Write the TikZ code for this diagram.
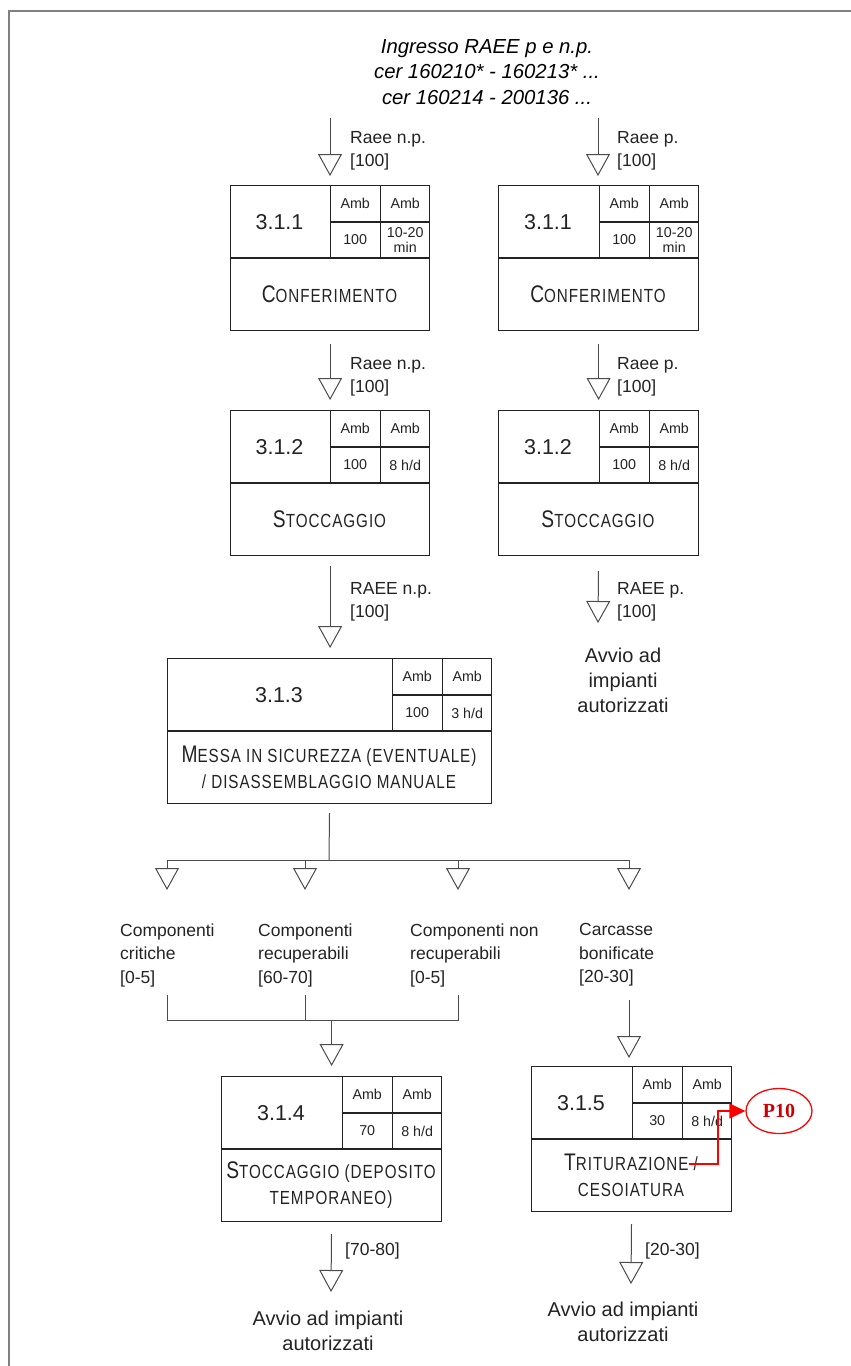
\documentclass[tikz,border=0pt]{standalone}
\usepackage{fontspec}
\setmainfont{Liberation Sans}
\newfontfamily\cadfont[FakeStretch=0.8,LetterSpace=5]{Liberation Sans}
\newfontfamily\pfont{Liberation Serif}
\usetikzlibrary{arrows.meta,shapes.geometric}

\definecolor{grigioscuro}{RGB}{35,35,35}
\definecolor{grigio}{RGB}{75,75,75}
\definecolor{rossoP}{RGB}{204,0,0}

% lettera grande del maiuscoletto
\newcommand{\gc}[1]{{\fontsize{24}{26}\selectfont #1}}

% fase: nome, x, y, larghezza, codice, quantita, tempo, titolo
\newcommand{\fase}[8]{%
  \node[box, minimum width=#4pt] (#1) at (#2,#3) {};
  \draw[bordo] ([yshift=-73pt]#1.north west) -- ++(#4,0);
  \draw[bordo] ([xshift=-100pt]#1.north east) -- ++(0,73);
  \draw[bordo] ([xshift=-50pt]#1.north east) -- ++(0,73);
  \draw[bordo] ([shift={(-100,37)}]#1.north east) -- ++(100,0);
  \node[codice] (#1c) at ([shift={({(#4-100)/2},37)}]#1.north west) {#5};
  \node[cella] (#1a1) at ([shift={(-75,18.5)}]#1.north east) {Amb};
  \node[cella] (#1a2) at ([shift={(-25,18.5)}]#1.north east) {Amb};
  \node[cella] (#1v1) at ([shift={(-75,55)}]#1.north east) {#6};
  \node[cella] (#1v2) at ([shift={(-25,55)}]#1.north east) {#7};
  \node[titolo] (#1t) at ([shift={({#4/2},109)}]#1.north west) {#8};
}

\begin{document}
\begin{tikzpicture}[x=1pt, y=-1pt,
    box/.style={draw=grigioscuro, line width=1.2pt, rectangle, inner sep=0pt,
      minimum height=145pt, anchor=north west},
    bordo/.style={draw=grigioscuro, line width=1.2pt},
    codice/.style={text=grigioscuro, font=\fontsize{21.5}{24}\selectfont},
    cella/.style={text=grigioscuro, align=center, inner sep=0pt,
      font=\fontsize{14.3}{14.5}\selectfont},
    titolo/.style={text=grigioscuro, align=center, inner sep=0pt,
      font=\cadfont\fontsize{19}{26}\selectfont},
    etich/.style={text=grigioscuro, anchor=west, align=left, inner sep=0pt,
      font=\fontsize{17.5}{23.5}\selectfont},
    avvio/.style={text=grigioscuro, align=center, inner sep=0pt,
      font=\fontsize{20}{25}\selectfont},
    filo/.style={draw=grigio, line width=1pt},
    flusso/.style={draw=grigio, line width=1pt,
      -{Triangle[open, width=24pt, length=22pt]}},
    cornice/.style={draw=black!50, line width=2.5pt}]

  \useasboundingbox (0,0) rectangle (851,1366);
  \draw[cornice] (9,1366) -- (9,11) -- (851,11);

  % Ingresso
  \node[align=center, font=\itshape\fontsize{20.3}{25.5}\selectfont] (ingresso) at (487,72)
    {Ingresso RAEE p e n.p.\\cer 160210* - 160213* ...\\cer 160214 - 200136 ...};

  % Fasi
  \fase{conf1}{230}{185}{199}{3.1.1}{100}{10-20\\min}{\gc{C}ONFERIMENTO}
  \fase{conf2}{498}{185}{200}{3.1.1}{100}{10-20\\min}{\gc{C}ONFERIMENTO}
  \fase{stoc1}{230}{410}{199}{3.1.2}{100}{8 h/d}{\gc{S}TOCCAGGIO}
  \fase{stoc2}{498}{410}{200}{3.1.2}{100}{8 h/d}{\gc{S}TOCCAGGIO}
  \fase{mess}{167}{658}{324}{3.1.3}{100}{3 h/d}{\gc{M}ESSA IN SICUREZZA (EVENTUALE)\\/ DISASSEMBLAGGIO MANUALE}
  \fase{depo}{221}{1076}{220}{3.1.4}{70}{8 h/d}{\gc{S}TOCCAGGIO (DEPOSITO\\TEMPORANEO)}
  \fase{trit}{531}{1066}{200}{3.1.5}{30}{8 h/d}{\gc{T}RITURAZIONE /\\CESOIATURA}

  % Etichette dei flussi
  \node[etich] (l1) at (350,151) {Raee n.p.\\{[100]}};
  \node[etich] (l2) at (617,151) {Raee p.\\{[100]}};
  \node[etich] (l3) at (350,377) {Raee n.p.\\{[100]}};
  \node[etich] (l4) at (617,377) {Raee p.\\{[100]}};
  \node[etich] (l5) at (350,602) {RAEE n.p.\\{[100]}};
  \node[etich] (l6) at (617,602) {RAEE p.\\{[100]}};
  \node[etich] (comp1) at (120,955) {Componenti\\critiche\\{[0-5]}};
  \node[etich] (comp2) at (258,955) {Componenti\\recuperabili\\{[60-70]}};
  \node[etich] (comp3) at (410,955) {Componenti non\\recuperabili\\{[0-5]}};
  \node[etich] (comp4) at (579,955) {Carcasse\\bonificate\\{[20-30]}};
  \node[etich] (q1) at (345,1251) {{[70-80]}};
  \node[etich] (q2) at (645,1251) {{[20-30]}};

  % Uscite
  \node[avvio] (avvio1) at (623,680) {Avvio ad\\impianti\\autorizzati};
  \node[avvio] (avvio2) at (328,1331) {Avvio ad impianti\\autorizzati};
  \node[avvio] (avvio3) at (623,1322) {Avvio ad impianti\\autorizzati};

  % Punto di emissione
  \node[ellipse, draw=red, line width=1.3pt, minimum width=66pt, minimum height=45pt,
    inner sep=0pt, text=rossoP, font=\pfont\bfseries\fontsize{20}{20}\selectfont]
    (p10) at (779,1111) {P10};

  % Punti liberi
  \coordinate (inL) at (330,118);
  \coordinate (inR) at (598,118);
  \coordinate (fR) at (598,623);
  \coordinate (ramo) at (329,860);
  \coordinate (d1) at (167,860);
  \coordinate (d2) at (305,860);
  \coordinate (d3) at (458,860);
  \coordinate (d4) at (629,860);
  \coordinate (a1) at (167,890);
  \coordinate (a2) at (305,890);
  \coordinate (a3) at (458,890);
  \coordinate (a4) at (629,890);
  \coordinate (u1) at (167,995);
  \coordinate (u2) at (305,995);
  \coordinate (u3) at (458,995);
  \coordinate (u4) at (629,1000);
  \coordinate (m1) at (167,1020);
  \coordinate (m3) at (458,1020);
  \coordinate (fL) at (331,1292);
  \coordinate (fR2) at (631,1284);
  \coordinate (pst) at (689,1164);

  % Collegamenti
  \draw[flusso, shorten >=9pt] (inL) -- (inL |- conf1.north);
  \draw[flusso, shorten >=9pt] (inR) -- (inR |- conf2.north);
  \draw[flusso, shorten <=13pt, shorten >=10pt] (conf1.south) -- (stoc1.north);
  \draw[flusso, shorten <=13pt, shorten >=10pt] (conf2.south) -- (stoc2.north);
  \draw[flusso, shorten <=10pt, shorten >=10pt] (stoc1.south) -- (stoc1.south |- mess.north);
  \draw[flusso, shorten <=15pt] (stoc2.south) -- (fR);
  \draw[filo, shorten <=9pt] (mess.south) -- (ramo);
  \draw[filo] (d1) -- (d4);
  \draw[flusso] (d1) -- (a1);
  \draw[flusso] (d2) -- (a2);
  \draw[flusso] (d3) -- (a3);
  \draw[flusso] (d4) -- (a4);
  \draw[filo] (u1) -- (m1) -- (m3) -- (u3);
  \draw[filo] (u2) -- (u2 |- m1);
  \draw[flusso, shorten >=10pt] (depo.north |- m1) -- (depo.north);
  \draw[flusso, shorten >=8pt] (u4) -- (u4 |- trit.north);
  \draw[flusso, shorten <=12pt] (depo.south) -- (fL);
  \draw[flusso, shorten <=12pt] (trit.south) -- (fR2);
  \draw[red, line width=1.3pt, -{Triangle[width=15pt, length=16pt]}]
    (pst) -- ++(29,0) |- (p10.west);
\end{tikzpicture}
\end{document}
